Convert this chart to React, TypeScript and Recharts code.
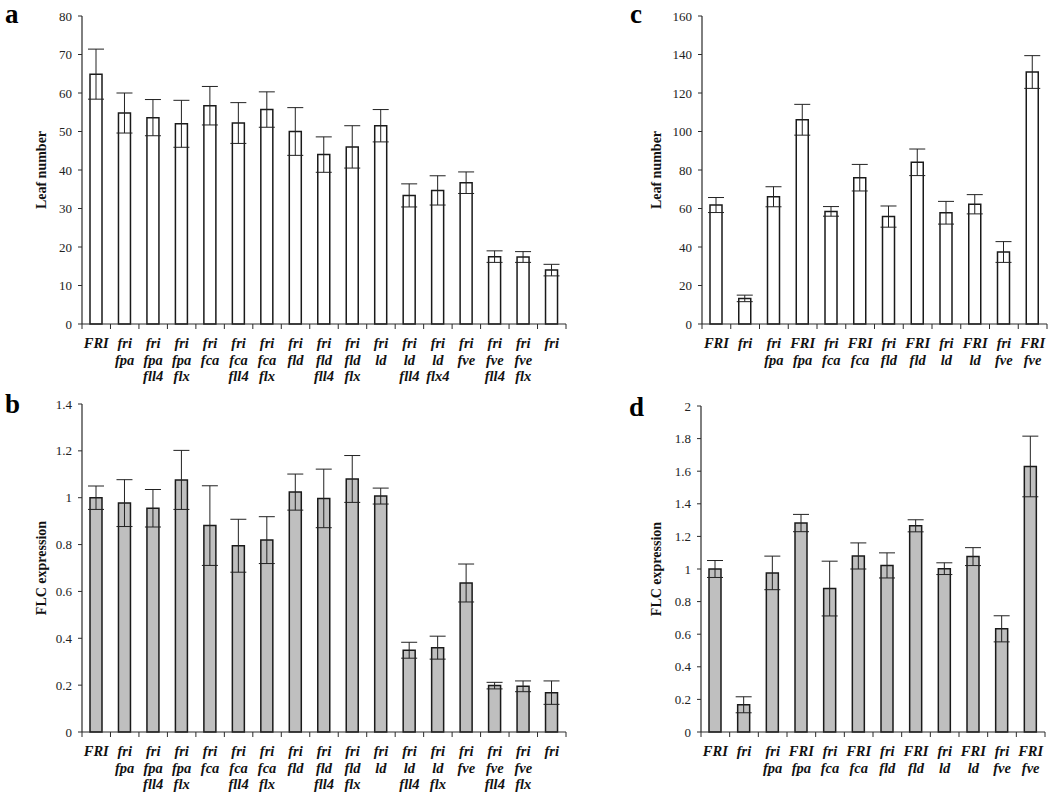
import React from 'react'
import { BarChart, Bar, XAxis, YAxis, ErrorBar, Label } from 'recharts'

// panel a / b : single, double and triple mutants
const mutantLeafLabels = [
  'FRI', 'fri\nfpa', 'fri\nfpa\nfll4', 'fri\nfpa\nflx', 'fri\nfca', 'fri\nfca\nfll4', 'fri\nfca\nflx',
  'fri\nfld', 'fri\nfld\nfll4', 'fri\nfld\nflx', 'fri\nld', 'fri\nld\nfll4', 'fri\nld\nflx4', 'fri\nfve',
  'fri\nfve\nfll4', 'fri\nfve\nflx', 'fri',
]
const mutantFlcLabels = [
  'FRI', 'fri\nfpa', 'fri\nfpa\nfll4', 'fri\nfpa\nflx', 'fri\nfca', 'fri\nfca\nfll4', 'fri\nfca\nflx',
  'fri\nfld', 'fri\nfld\nfll4', 'fri\nfld\nflx', 'fri\nld', 'fri\nld\nfll4', 'fri\nld\nflx', 'fri\nfve',
  'fri\nfve\nfll4', 'fri\nfve\nflx', 'fri',
]
const mutantLeaves = [64.9, 54.8, 53.6, 52.0, 56.7, 52.2, 55.7, 50.0, 44.0, 46.0, 51.5, 33.4, 34.7, 36.7, 17.5, 17.4, 14.0]
const mutantLeafErr = [6.5, 5.2, 4.7, 6.1, 5.0, 5.3, 4.6, 6.2, 4.6, 5.5, 4.2, 3.0, 3.8, 2.8, 1.5, 1.4, 1.5]
const mutantFlc = [1.0, 0.977, 0.955, 1.076, 0.881, 0.795, 0.819, 1.024, 0.997, 1.08, 1.007, 0.349, 0.36, 0.636, 0.198, 0.195, 0.168]
const mutantFlcErr = [0.05, 0.1, 0.08, 0.126, 0.17, 0.113, 0.1, 0.077, 0.125, 0.1, 0.034, 0.034, 0.049, 0.081, 0.014, 0.023, 0.05]

// panel c / d : fri vs FRI backgrounds
const pairLabels = [
  'FRI', 'fri', 'fri\nfpa', 'FRI\nfpa', 'fri\nfca', 'FRI\nfca', 'fri\nfld', 'FRI\nfld', 'fri\nld', 'FRI\nld', 'fri\nfve', 'FRI\nfve',
]
const pairLeaves = [61.8, 13.3, 66.1, 106.1, 58.5, 76.0, 55.8, 84.0, 57.8, 62.2, 37.4, 130.9]
const pairLeafErr = [3.9, 1.7, 5.2, 8.0, 2.5, 6.9, 5.5, 6.9, 5.9, 5.0, 5.4, 8.5]
const pairFlc = [1.0, 0.167, 0.976, 1.282, 0.88, 1.08, 1.022, 1.265, 1.002, 1.076, 0.633, 1.629]
const pairFlcErr = [0.052, 0.049, 0.103, 0.053, 0.168, 0.08, 0.077, 0.037, 0.036, 0.055, 0.08, 0.186]

const ticksA = [0, 10, 20, 30, 40, 50, 60, 70, 80]
const ticksB = [0, 0.2, 0.4, 0.6, 0.8, 1, 1.2, 1.4]
const ticksC = [0, 20, 40, 60, 80, 100, 120, 140, 160]
const ticksD = [0, 0.2, 0.4, 0.6, 0.8, 1, 1.2, 1.4, 1.6, 1.8, 2]

const SERIF = '"Liberation Serif", serif'
const AXIS = '#2b2b2b'

const CategoryTick = (props: any) => {
  const { x, y, payload, index, half } = props
  const lines = String(payload.value).split('\n')
  return (
    <g>
      <line x1={x + half} x2={x + half} y1={y} y2={y + 5} stroke={AXIS} strokeWidth={1} />
      {index === 0 && <line x1={x - half} x2={x - half} y1={y} y2={y + 5} stroke={AXIS} strokeWidth={1} />}
      <text x={x} y={y + 24} textAnchor="middle" fontFamily={SERIF} fontWeight="bold" fontStyle="italic" fontSize={14.5} fill="#111">
        {lines.map((l, i) => (
          <tspan key={i} x={x} dy={i === 0 ? 0 : 16.7}>{l}</tspan>
        ))}
      </text>
    </g>
  )
}

const ValueTick = (props: any) => {
  const { x, y, payload } = props
  return (
    <text x={x} y={y} dy={4.5} textAnchor="end" fontFamily={SERIF} fontSize={13} fill="#222">
      {payload.value}
    </text>
  )
}

const AxisTitle = (props: any) => {
  const { viewBox, text } = props
  const cx = viewBox.x + viewBox.width / 2
  const cy = viewBox.y + viewBox.height / 2
  return (
    <text x={cx} y={cy} dy={5} textAnchor="middle" transform={`rotate(-90 ${cx} ${cy})`}
      fontFamily={SERIF} fontWeight="bold" fontSize={14} fill="#111">
      {text}
    </text>
  )
}

type PanelProps = {
  labels: string[]
  values: number[]
  errors: number[]
  ticks: number[]
  yLabel: string
  fill: string
  left: number
  top: number
  width: number
  height: number
  margin: { top: number; right: number; bottom: number; left: number }
  yWidth: number
  xHeight: number
  barSize: number
}

const Panel = (p: PanelProps) => {
  const rows = p.labels.map((name, i) => ({ name, value: p.values[i], err: p.errors[i] }))
  const plotW = p.width - p.margin.left - p.margin.right - p.yWidth
  const half = plotW / p.labels.length / 2
  return (
    <div style={{ position: 'absolute', left: p.left, top: p.top }}>
      <BarChart width={p.width} height={p.height} data={rows} margin={p.margin}>
        <XAxis
          dataKey="name"
          interval={0}
          height={p.xHeight}
          tickSize={0}
          tickMargin={0}
          tickLine={false}
          axisLine={{ stroke: AXIS, strokeWidth: 1.2 }}
          tick={(t: any) => <CategoryTick {...t} half={half} />}
        />
        <YAxis
          width={p.yWidth}
          domain={[p.ticks[0], p.ticks[p.ticks.length - 1]]}
          ticks={p.ticks}
          interval={0}
          tickSize={4}
          tickMargin={6}
          axisLine={{ stroke: AXIS, strokeWidth: 1.2 }}
          tickLine={{ stroke: AXIS }}
          tick={(t: any) => <ValueTick {...t} />}
        >
          <Label content={(lp: any) => <AxisTitle {...lp} text={p.yLabel} />} />
        </YAxis>
        <Bar dataKey="value" fill={p.fill} stroke="#1a1a1a" strokeWidth={1.5} barSize={p.barSize} isAnimationActive={false}>
          <ErrorBar dataKey="err" width={8} stroke="#222" strokeWidth={1} />
        </Bar>
      </BarChart>
    </div>
  )
}

const letterStyle = (left: number, top: number): React.CSSProperties => ({
  position: 'absolute',
  left,
  top,
  fontFamily: SERIF,
  fontWeight: 'bold',
  fontSize: 27,
  lineHeight: '28px',
  color: '#000',
})

export default function App() {
  return (
    <div style={{ position: 'absolute', left: 0, top: 0, width: 1050, height: 792, background: '#fff', overflow: 'hidden', fontFamily: SERIF }}>
      <Panel
        labels={mutantLeafLabels} values={mutantLeaves} errors={mutantLeafErr} ticks={ticksA}
        yLabel="Leaf number" fill="#ffffff" left={0} top={0} width={600} height={395}
        margin={{ top: 16, right: 34, bottom: 11, left: 0 }} yWidth={82} xHeight={60} barSize={12}
      />
      <Panel
        labels={mutantFlcLabels} values={mutantFlc} errors={mutantFlcErr} ticks={ticksB}
        yLabel="FLC expression" fill="#bfbfbf" left={0} top={395} width={600} height={397}
        margin={{ top: 9, right: 34, bottom: 4, left: 0 }} yWidth={82} xHeight={56} barSize={12}
      />
      <Panel
        labels={pairLabels} values={pairLeaves} errors={pairLeafErr} ticks={ticksC}
        yLabel="Leaf number" fill="#ffffff" left={610} top={0} width={440} height={395}
        margin={{ top: 16, right: 3, bottom: 11, left: 0 }} yWidth={92} xHeight={60} barSize={12}
      />
      <Panel
        labels={pairLabels} values={pairFlc} errors={pairFlcErr} ticks={ticksD}
        yLabel="FLC expression" fill="#bfbfbf" left={610} top={395} width={440} height={397}
        margin={{ top: 11, right: 5, bottom: 4, left: 0 }} yWidth={91} xHeight={56} barSize={12}
      />
      <div style={letterStyle(5, 0)}>a</div>
      <div style={letterStyle(5, 390)}>b</div>
      <div style={letterStyle(630, 0)}>c</div>
      <div style={letterStyle(629, 393)}>d</div>
    </div>
  )
}
